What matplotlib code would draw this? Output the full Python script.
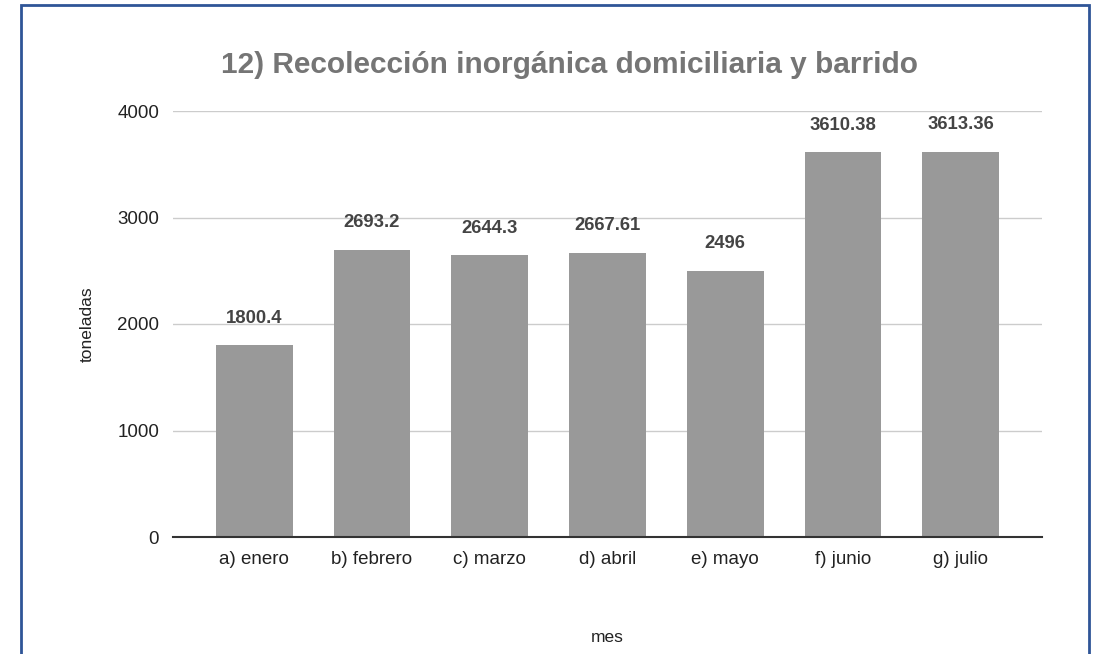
import matplotlib.pyplot as plt
from matplotlib.patches import Rectangle

plt.rcParams["font.family"] = ["Liberation Sans", "DejaVu Sans"]

meses = ["a) enero", "b) febrero", "c) marzo", "d) abril", "e) mayo", "f) junio", "g) julio"]
toneladas = [1800.4, 2693.2, 2644.3, 2667.61, 2496, 3610.38, 3613.36]
etiquetas = ["1800.4", "2693.2", "2644.3", "2667.61", "2496", "3610.38", "3613.36"]
yticks = [0, 1000, 2000, 3000, 4000]

fig = plt.figure(figsize=(10.96, 6.54), dpi=100)
ax = fig.add_axes([173 / 1096, 1 - 537 / 654, (1042 - 173) / 1096, (537 - 111) / 654])

x = range(len(meses))
bars = ax.bar(x, toneladas, width=0.65, color="#999999", zorder=2)
ax.bar_label(bars, labels=etiquetas, padding=13.5, fontsize=13.3, fontweight="bold", color="#444444")

ax.set_xlim(-0.69, len(meses) - 1 + 0.69)
ax.set_ylim(0, 4000)
ax.set_yticks(yticks)
ax.set_xticks(list(x))
ax.set_xticklabels(meses)
ax.tick_params(axis="both", length=0, labelsize=13.5, colors="#222222")
ax.tick_params(axis="y", pad=10)
ax.tick_params(axis="x", pad=10)
ax.grid(axis="y", color="#cccccc", linewidth=1, zorder=0)
for side in ["top", "right", "left"]:
    ax.spines[side].set_visible(False)
ax.spines["bottom"].set_color("#333333")
ax.spines["bottom"].set_linewidth(1.5)
ax.spines["bottom"].set_zorder(3)

ax.set_ylabel("toneladas", fontsize=12.5, color="#222222", labelpad=16)
ax.set_xlabel("mes", fontsize=12.5, color="#222222", labelpad=45)
fig.text(569.5 / 1096, 1 - 65 / 654, "12) Recolección inorgánica domiciliaria y barrido",
         ha="center", va="center", fontsize=21.5, fontweight="bold", color="#757575")

fig.patches.append(Rectangle((21 / 1096, -0.1), (1089 - 21) / 1096, 1.1 - 5 / 654,
                             transform=fig.transFigure, fill=False,
                             edgecolor="#2f5597", linewidth=2))

fig.savefig("out.png", dpi=100)
